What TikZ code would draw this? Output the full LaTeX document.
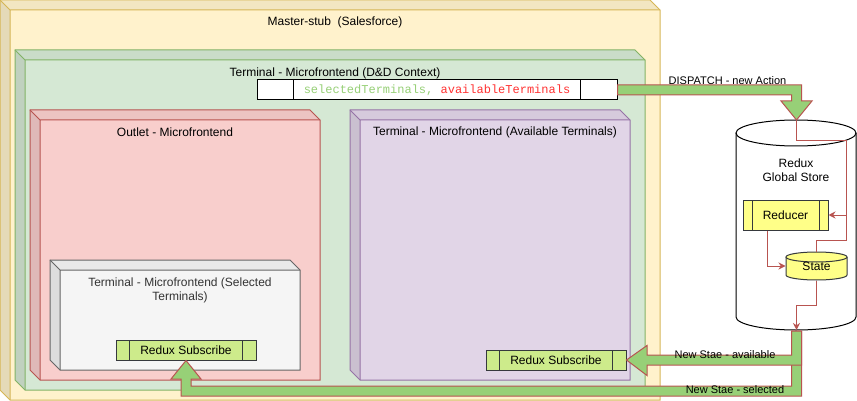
\documentclass[tikz,border=0pt]{standalone}
\usepackage{fontspec}
\setmainfont{Liberation Sans}
\newfontfamily\codefont{Liberation Mono}
\usetikzlibrary{arrows.meta}
\definecolor{yfill}{HTML}{FFF2CC}\definecolor{ystroke}{HTML}{D6B656}
\definecolor{gfill}{HTML}{D5E8D4}\definecolor{gstroke}{HTML}{82B366}
\definecolor{rfill}{HTML}{F8CECC}\definecolor{rstroke}{HTML}{B85450}
\definecolor{pfill}{HTML}{E1D5E7}\definecolor{pstroke}{HTML}{9673A6}
\definecolor{grfill}{HTML}{F5F5F5}\definecolor{grstroke}{HTML}{666666}
\definecolor{grtext}{HTML}{333333}
\definecolor{limefill}{HTML}{CDEB8B}\definecolor{darkstroke}{HTML}{36393D}
\definecolor{lyellow}{HTML}{FFFF88}
\definecolor{arrowgreen}{HTML}{97D077}
\definecolor{codegreen}{HTML}{97D077}\definecolor{codered}{HTML}{FF3333}
\newcommand\mycube[6]{%
 \fill[#1] ({#3+10},{#4+10}) rectangle (#5,#6);
 \fill[#1!95!black] (#3,#4) -- ({#5-10},#4) -- (#5,{#4+10}) -- ({#3+10},{#4+10}) -- cycle;
 \fill[#1!90!black] (#3,#4) -- ({#3+10},{#4+10}) -- ({#3+10},#6) -- (#3,{#6-10}) -- cycle;
 \draw[#2] (#3,#4) -- ({#5-10},#4) -- (#5,{#4+10}) -- (#5,#6) -- ({#3+10},#6) -- (#3,{#6-10}) -- cycle;
 \draw[#2] (#3,#4) -- ({#3+10},{#4+10}) -- (#5,{#4+10}) ({#3+10},{#4+10}) -- ({#3+10},#6);
}
\tikzset{
 divided/.style={path picture={\draw[line width=1pt]
   ([xshift=#1]path picture bounding box.north west) -- ([xshift=#1]path picture bounding box.south west)
   ([xshift=-#1]path picture bounding box.north east) -- ([xshift=-#1]path picture bounding box.south east);}},
 subbox/.style={draw=darkstroke, fill=limefill, line width=1pt, minimum width=140, minimum height=20, inner sep=0pt, divided=13.5pt},
 redline/.style={draw=rstroke, line width=1pt},
 redarrow/.style={redline, -{Stealth[length=7pt,width=7pt]}},
 fatarrow/.style={fill=arrowgreen, draw=rstroke, line width=1pt, line join=miter},
 lbl/.style={inner sep=0pt, font=\fontsize{12}{14}\selectfont},
 slbl/.style={inner sep=0pt, font=\fontsize{11}{13}\selectfont},
}
\begin{document}
\begin{tikzpicture}[x=1pt,y=-1pt,line width=1pt]
\useasboundingbox (0,0) rectangle (857,401);
% cubes
\mycube{yfill}{ystroke}{0}{0}{660}{400}
\mycube{gfill}{gstroke}{15}{50}{645}{390}
\mycube{rfill}{rstroke}{30}{110}{320}{380}
\mycube{pfill}{pstroke}{350}{110}{630}{380}
\mycube{grfill}{grstroke}{50}{260}{300}{370}
% cube labels
\node[lbl] (master) at (335,22) {Master-stub~~(Salesforce)};
\node[lbl] (ddctx) at (335,73) {Terminal - Microfrontend (D\&D Context)};
\node[lbl] (outlet) at (175,132) {Outlet - Microfrontend};
\node[lbl] (availcube) at (495,132) {Terminal - Microfrontend (Available Terminals)};
\node[lbl, align=center, text=grtext] (selcube) at (180,290) {Terminal - Microfrontend (Selected\\Terminals)};
% context bar
\node[draw=black, fill=white, minimum width=360, minimum height=20, inner sep=0pt, divided=36.5pt] (ctx) at (437,90)
  {\fontsize{12}{14}\selectfont\codefont\textcolor{codegreen}{selectedTerminals,} \textcolor{codered}{availableTerminals}};
% subscribe boxes
\node[subbox, font=\fontsize{12}{14}\selectfont] (subsel) at (186,350) {Redux Subscribe};
\node[subbox, font=\fontsize{12}{14}\selectfont] (subav) at (556,360) {Redux Subscribe};
% store cylinder
\fill[white] (736,133) rectangle (856,317);
\fill[white] (796,317) ellipse [x radius=60pt, y radius=13pt];
\draw (736,133) -- (736,317) arc[start angle=180, end angle=360, x radius=60pt, y radius=13pt] -- (856,133);
\draw (796,133) ellipse [x radius=60pt, y radius=13pt];
\node[minimum width=120, minimum height=210, inner sep=0pt] (store) at (796,225) {};
\coordinate (disptip) at (796.5,120);
\coordinate (storebottom) at (796.5,330);
\node[lbl, align=center] (storelbl) at (796,170) {Redux\\Global Store};
% reducer
\node[draw=darkstroke, fill=lyellow, minimum width=85, minimum height=30, inner sep=0pt, divided=9pt, font=\fontsize{12}{14}\selectfont] (reducer) at (785.5,215) {Reducer};
% state cylinder
\fill[lyellow] (786,257) rectangle (847,275);
\fill[lyellow] (816.5,275) ellipse [x radius=30.5pt, y radius=5pt];
\draw[darkstroke] (786,257) -- (786,275) arc[start angle=180, end angle=360, x radius=30.5pt, y radius=5pt] -- (847,257);
\draw[darkstroke, fill=lyellow] (816.5,257) ellipse [x radius=30.5pt, y radius=5pt];
\node[minimum width=61, minimum height=28, inner sep=0pt, font=\fontsize{12}{14}\selectfont] (state) at (816.5,266) {\raisebox{-2pt}{State}};
% red connectors
\draw[redline] (disptip) -- (796.5,141) -| (846.5,240) -| (state.north);
\draw[redarrow] (846.5,215) -- (reducer.east);
\draw[redarrow] ([xshift=-18.5pt]reducer.south) |- (state.west);
\draw[redarrow] (state.south) -- (816.5,305) -| (storebottom);
% green flex arrows
\draw[fatarrow] (791.5,331) -- (801.5,331) -- (801.5,396) -- (181,396) -- (181,379) -- (171,379) -- (subsel.south)
  -- (201,379) -- (191,379) -- (191,386) -- (791.5,386) -- cycle;
\draw[fatarrow] (791.5,331) -- (801.5,331) -- (801.5,365) -- (647,365) -- (647,375.5) -- (subav.east)
  -- (647,345.5) -- (647,355) -- (791.5,355) -- cycle;
\draw[fatarrow] ([yshift=5pt]ctx.east) -- (801.5,85) -- (801.5,101) -- (812,101) -- (disptip)
  -- (781,101) -- (791.5,101) -- (791.5,95) -- ([yshift=-5pt]ctx.east) -- cycle;
% arrow labels
\node[slbl] (ldisp) at (727.5,81) {DISPATCH - new Action};
\node[slbl] (lavail) at (725,355) {New Stae - available};
\node[slbl] (lsel) at (735,390) {New Stae - selected};
\end{tikzpicture}
\end{document}
